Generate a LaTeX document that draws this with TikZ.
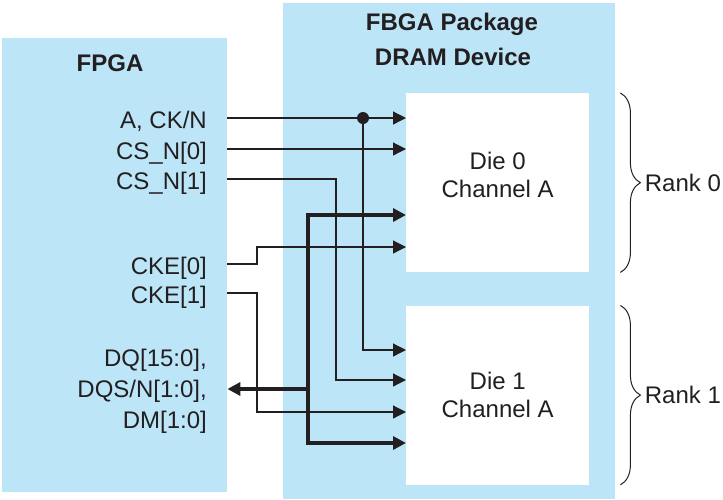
\documentclass[tikz,border=0pt]{standalone}
\usepackage{fontspec}
\setmainfont{Liberation Sans}
\usetikzlibrary{positioning,arrows.meta,decorations.pathreplacing}
\definecolor{pkgblue}{RGB}{189,229,248}
\definecolor{ink}{RGB}{35,31,32}
\definecolor{wire}{RGB}{105,105,105}

\begin{document}
\begin{tikzpicture}[x=1pt,y=-1pt,>={Triangle[length=13pt,width=13pt]},
    panel/.style={fill=pkgblue,inner sep=0,anchor=north west},
    die/.style={fill=white,inner sep=0,minimum width=183pt,minimum height=179pt},
    dietext/.style={align=center,inner sep=0,font=\fontsize{24}{28}\selectfont,text=ink},
    title/.style={anchor=base,inner sep=0,font=\fontsize{24}{28}\selectfont\bfseries,text=ink},
    sig/.style={anchor=east,inner sep=0,text height=21pt,text depth=0pt,font=\fontsize{24}{31}\selectfont,text=ink},
    wire/.style={line width=1.2pt,ink},
    gwire/.style={line width=1.2pt,wire},
    bus/.style={line width=3.5pt,ink},
    rank/.style={decorate,decoration={brace,amplitude=20pt},line width=1pt,ink}]

    \useasboundingbox (0,0) rectangle (723,499);

    % blocks
    \node[panel,minimum width=225pt,minimum height=454pt] (fpga) at (2,38) {};
    \node[panel,minimum width=332pt,minimum height=496pt] (pkg) at (283,3) {};
    \node[die,anchor=north west] (die0) at (406,93) {};
    \node[die,below=33pt of die0] (die1) {};
    \node[dietext,yshift=8pt] (die0t) at (die0.center) {Die 0\\Channel A};
    \node[dietext] (die1t) at (die1.center) {Die 1\\Channel A};

    \node[title] (fpgat) at (110,71) {FPGA};
    \node[title] (pkgt) at (452,30) {FBGA Package};
    \node[title] (devt) at (453,65) {DRAM Device};

    % signal names
    \node[sig] (a) at (207,118) {A, CK/N};
    \node[sig] (cs0) at (207,149) {CS\_N[0]};
    \node[sig] (cs1) at (207,179) {CS\_N[1]};
    \node[sig] (cke0) at (207,264) {CKE[0]};
    \node[sig] (cke1) at (207,293) {CKE[1]};
    \node[sig,align=right,text height=,text depth=,yshift=-2pt] (dq) at (207,389) {DQ[15:0],\\DQS/N[1:0],\\DM[1:0]};

    % corners of the wires
    \coordinate (tap) at (363,118);
    \coordinate (jog0) at (257,264);
    \coordinate (jog1) at (257,293);
    \coordinate (drop) at (336,179);
    \coordinate (bus0) at (308,215);
    \coordinate (bus1) at (308,443);
    \coordinate (busdq) at (308,389);

    \draw[wire,->] (a.east -| fpga.east) -- (a.east -| die0.west);
    \draw[wire,->] (cs0.east -| fpga.east) -- (cs0.east -| die0.west);
    \draw[wire,->] (tap) -- (tap |- 0,350) -- (die1.west |- 0,350);
    \fill[ink] (tap) circle (6pt);
    \draw[gwire,->] (cs1.east -| fpga.east) -- (drop) -- (drop |- 0,380) -- (die1.west |- 0,380);
    \draw[gwire,->] (cke0.east -| fpga.east) -- (jog0) -- (jog0 |- 0,247) -- (die0.west |- 0,247);
    \draw[gwire,->] (cke1.east -| fpga.east) -- (jog1) -- (jog1 |- 0,412) -- (die1.west |- 0,412);

    % data bus
    \draw[bus,<->] (bus0 -| die0.west) -- (bus0) -- (bus1) -- (bus1 -| die1.west);
    \draw[bus,->] (busdq) -- (busdq -| fpga.east);

    % ranks
    \draw[rank] ([xshift=31pt]die0.north east) -- node[right=24pt,inner sep=0,font=\fontsize{24}{28}\selectfont,text=ink] (r0) {Rank 0} ([xshift=31pt]die0.south east);
    \draw[rank] ([xshift=31pt]die1.north east) -- node[right=24pt,inner sep=0,font=\fontsize{24}{28}\selectfont,text=ink] (r1) {Rank 1} ([xshift=31pt]die1.south east);
\end{tikzpicture}
\end{document}
